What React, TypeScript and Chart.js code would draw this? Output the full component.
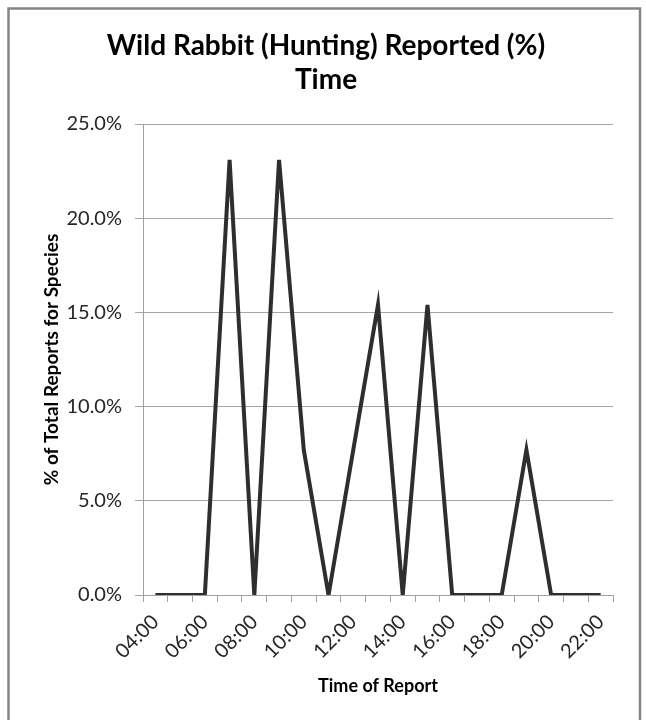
import React, { useEffect, useRef } from "react";
import { Chart, registerables } from "chart.js";

Chart.register(...registerables);

const timeLabels: string[] = [
  "04:00", "05:00", "06:00", "07:00", "08:00", "09:00", "10:00", "11:00", "12:00", "13:00",
  "14:00", "15:00", "16:00", "17:00", "18:00", "19:00", "20:00", "21:00", "22:00",
];
const reportedPct: number[] = [
  0, 0, 0, 23.1, 0, 23.1, 7.7, 0, 7.7, 15.4,
  0, 15.4, 0, 0, 0, 7.7, 0, 0, 0,
];
const yTicks: number[] = [0, 5, 10, 15, 20, 25];
const titleLines: string[] = ["Wild Rabbit (Hunting) Reported (%)", "Time"];
const yAxisTitle = "% of Total Reports for Species";
const xAxisTitle = "Time of Report";

const FONT = "Lato, 'Open Sans', sans-serif";

const framePlugin = {
  id: "frame",
  beforeDraw(chart: any) {
    const { ctx, width, height } = chart;
    ctx.save();
    ctx.fillStyle = "#ffffff";
    ctx.fillRect(0, 0, width, height);
    ctx.strokeStyle = "#858585";
    ctx.lineWidth = 2.5;
    ctx.strokeRect(8.5, 8.5, 631.5, height + 20);
    ctx.restore();
  },
};

export default function App() {
  const ref = useRef<HTMLCanvasElement | null>(null);

  useEffect(() => {
    if (!ref.current) return;
    const chart = new Chart(ref.current, {
      type: "line",
      data: {
        labels: timeLabels,
        datasets: [
          {
            data: reportedPct,
            borderColor: "#2e2e2e",
            borderWidth: 4,
            pointRadius: 0,
            tension: 0,
            fill: false,
          },
        ],
      },
      options: {
        animation: false,
        responsive: false,
        maintainAspectRatio: false,
        layout: { padding: { top: 124, right: 33, bottom: 0, left: 0 } },
        plugins: {
          legend: { display: false },
          tooltip: { enabled: false },
          title: { display: false },
        },
        scales: {
          x: {
            type: "category",
            offset: true,
            grid: {
              display: true,
              drawOnChartArea: false,
              drawTicks: true,
              tickLength: 7,
              offset: true,
              color: "#a0a0a0",
            },
            border: { display: true, color: "#a0a0a0", width: 1 },
            ticks: {
              autoSkip: false,
              maxRotation: 45,
              minRotation: 45,
              padding: 8,
              color: "#262626",
              font: { family: FONT, size: 20 },
              callback: (_v: any, i: number) => (i % 2 === 0 ? timeLabels[i] : ""),
            },
            title: {
              display: true,
              text: xAxisTitle,
              color: "#000",
              font: { family: FONT, size: 18, weight: "bold" },
              padding: { top: 0, bottom: 23 },
            },
            afterFit: (s: any) => {
              s.height = 125;
            },
          },
          y: {
            min: 0,
            max: 25,
            afterBuildTicks: (s: any) => {
              s.ticks = yTicks.map((v) => ({ value: v }));
            },
            grid: {
              color: "#a6a6a6",
              tickLength: 8,
              drawTicks: true,
            },
            border: { display: true, color: "#a0a0a0", width: 1 },
            ticks: {
              padding: 13,
              color: "#262626",
              font: { family: FONT, size: 20 },
              callback: (v: any) => Number(v).toFixed(1) + "%",
            },
            title: {
              display: true,
              text: yAxisTitle,
              color: "#000",
              font: { family: FONT, size: 19, weight: "bold" },
              padding: { top: 40, bottom: 0 },
            },
            afterFit: (s: any) => {
              s.width = 143;
            },
          },
        },
      },
      plugins: [
        framePlugin,
        {
          id: "bigTitle",
          afterDraw(chart: any) {
            const { ctx } = chart;
            ctx.save();
            ctx.fillStyle = "#000";
            ctx.textAlign = "center";
            ctx.textBaseline = "alphabetic";
            ctx.font = `bold 28px ${FONT}`;
            ctx.fillText(titleLines[0], 326, 55);
            ctx.fillText(titleLines[1], 326, 89);
            ctx.restore();
          },
        },
      ],
    } as any);
    return () => chart.destroy();
  }, []);

  return (
    <div style={{ position: "fixed", left: 0, top: 0, width: 646, height: 720, background: "#fff" }}>
      <canvas ref={ref} width={646} height={720} style={{ width: 646, height: 720, display: "block" }} />
    </div>
  );
}
